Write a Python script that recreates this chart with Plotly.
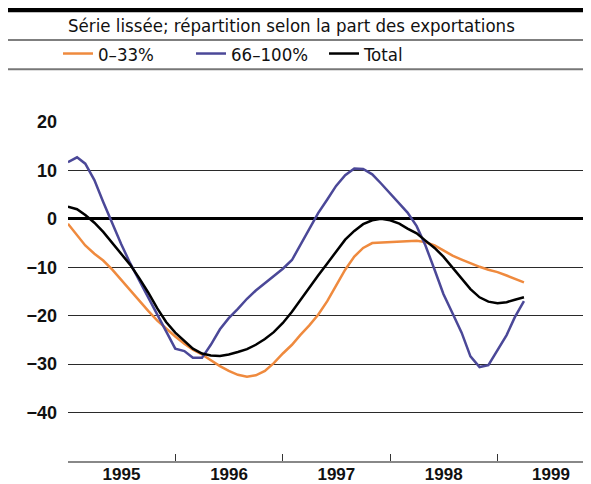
import pandas as pd
import plotly.graph_objects as go

# monthly observations, Jan 1995 .. Apr 1999
months = pd.date_range("1995-01-01", periods=52, freq="MS")

low_share = [-1.0, -3.3, -5.5, -7.2, -8.6, -10.5, -12.6, -14.8, -17.0, -19.0, -21.0, -22.7,
             -24.3, -25.8, -27.0, -28.0, -29.2, -30.4, -31.4, -32.2, -32.6, -32.3, -31.4, -29.8,
             -27.8, -26.0, -24.0, -22.0, -19.8, -17.0, -13.8, -10.5, -7.8, -6.0, -5.0, -4.9,
             -4.9, -4.8, -4.6, -4.5, -4.8, -5.5, -6.5, -7.6, -8.4, -9.2, -9.9, -10.5,
             -11.0, -11.7, -12.4, -13.1]

high_share = [11.7, 12.7, 11.4, 8.0, 3.5, -1.0, -5.2, -9.2, -12.8, -16.3, -20.0, -23.5,
              -26.8, -27.3, -28.7, -28.7, -26.0, -22.8, -20.5, -18.6, -16.5, -14.8, -13.3, -11.8,
              -10.3, -8.5, -5.5, -2.0, 1.2, 4.0, 6.8, 9.0, 10.4, 10.3, 9.2, 7.3,
              5.3, 3.3, 1.3, -1.5, -5.5, -10.5, -15.5, -19.5, -23.5, -28.4, -30.6, -30.2,
              -27.0, -24.0, -20.3, -17.0]

total = [2.5, 2.0, 0.8, -0.8, -2.7, -5.0, -7.2, -9.5, -12.3, -15.2, -18.5, -21.3,
         -23.5, -25.3, -26.8, -27.8, -28.2, -28.3, -28.0, -27.5, -26.9, -26.0, -24.8, -23.4,
         -21.5, -19.2, -16.8, -14.3, -11.7, -9.2, -6.7, -4.3, -2.5, -1.1, -0.3, 0.0,
         -0.3, -1.0, -2.0, -3.0, -4.5, -6.0, -7.8, -10.0, -12.3, -14.5, -16.2, -17.1,
         -17.4, -17.2, -16.7, -16.2]

series_names = ["0\u201333%", "66\u2013100%", "Total"]
series_colors = ["#EF8A3E", "#4B4898", "#000000"]

year_labels = ["1995", "1996", "1997", "1998", "1999"]
year_mid = ["1995-07-02", "1996-07-02", "1997-07-02", "1998-07-02", "1999-07-02"]
year_bounds = ["1996-01-01", "1997-01-01", "1998-01-01", "1999-01-01"]
y_ticks = [-40, -30, -20, -10, 0, 10, 20]

title_text = "S\u00e9rie liss\u00e9e; r\u00e9partition selon la part des exportations"

TEXT_FONT = "Liberation Sans Narrow, DejaVu Sans Condensed, Roboto, sans-serif"
BOLD_FONT = "Liberation Sans, Arial, sans-serif"

fig = go.Figure()
for vals, name, color in zip([low_share, high_share, total], series_names, series_colors):
    fig.add_trace(go.Scatter(x=months, y=vals, mode="lines", name=name,
                             line=dict(color=color, width=2.5)))

# the page body has an 8px margin; the figure is sized so it ends at the window edge
fig.update_layout(
    width=583, height=476,
    margin=dict(l=60, r=0, t=114, b=23, pad=0, autoexpand=False),
    paper_bgcolor="white", plot_bgcolor="white",
    showlegend=True,
    legend=dict(orientation="h", x=-0.0191, xanchor="left", y=1.2006, yanchor="middle",
                font=dict(family=TEXT_FONT, size=18.5, color="#111"),
                entrywidth=88, entrywidthmode="pixels", traceorder="normal",
                bgcolor="rgba(0,0,0,0)", borderwidth=0),
    xaxis=dict(type="date", range=["1995-01-01 06:00", "1999-11-15"],
               tickmode="array", tickvals=year_mid, ticktext=year_labels,
               ticks="", showgrid=False, zeroline=False,
               showline=True, linecolor="#888888", linewidth=2,
               tickfont=dict(family=BOLD_FONT, size=17, color="#111", weight="bold"),
               ticklabelstandoff=-3,
               minor=dict(tickmode="array", tickvals=year_bounds, ticks="inside",
                          ticklen=7, tickwidth=1, tickcolor="#333", showgrid=False)),
    yaxis=dict(range=[-50, 20], tickmode="array", tickvals=y_ticks,
               showgrid=True, gridcolor="#2a2a2a", gridwidth=1,
               zeroline=True, zerolinecolor="#000", zerolinewidth=2.5,
               ticks="", showline=False, ticklabelstandoff=10,
               tickfont=dict(family=BOLD_FONT, size=18, color="#111", weight="bold")),
)

# header rules
fig.add_shape(type="rect", xref="paper", yref="paper", x0=-0.1166, x1=1.0,
              y0=1.3236, y1=1.3383, fillcolor="black", line=dict(width=0))
fig.add_shape(type="line", xref="paper", yref="paper", x0=-0.1166, x1=1.0,
              y0=1.2419, y1=1.2419, line=dict(color="#555", width=1.5))
fig.add_shape(type="line", xref="paper", yref="paper", x0=-0.1166, x1=1.0,
              y0=1.1555, y1=1.1555, line=dict(color="#777", width=2))

fig.add_annotation(text=title_text, xref="paper", yref="paper", x=-0.0038, y=1.2861,
                   xanchor="left", yanchor="middle", showarrow=False,
                   font=dict(family=TEXT_FONT, size=18.5, color="#111"))

fig.write_html("out.html")
